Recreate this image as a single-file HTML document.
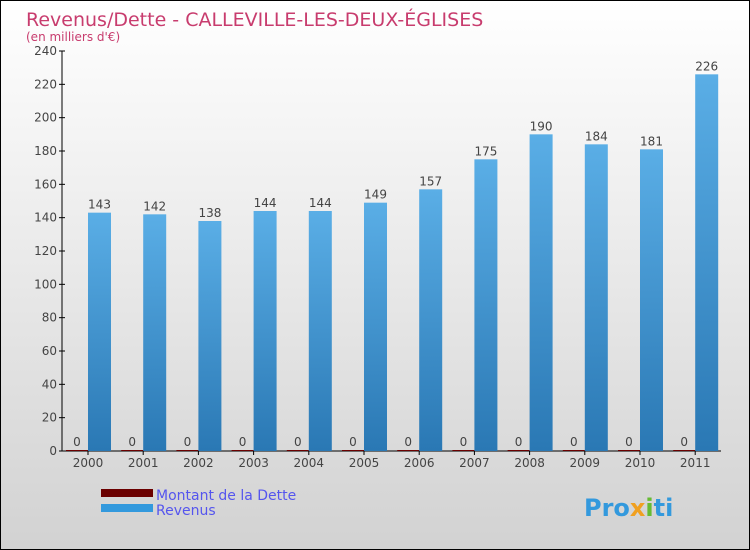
<!DOCTYPE html>
<html><head><meta charset="utf-8"><style>
body{margin:0}
#c{width:748px;height:548px;border:1px solid #000;background:linear-gradient(#fff,#d2d2d2);position:relative;font-family:"DejaVu Sans","Liberation Sans",sans-serif}
</style></head><body>
<div id="c">
<svg id="s" width="748" height="548" style="position:absolute;left:0;top:0">
<defs><linearGradient id="rg" x1="0" y1="0" x2="0" y2="1"><stop offset="0" stop-color="#5aaee6"/><stop offset="1" stop-color="#2a78b4"/></linearGradient></defs>
<text x="25" y="25" font-size="19" fill="#c83c6e">Revenus/Dette - CALLEVILLE-LES-DEUX-ÉGLISES</text>
<text x="25" y="40" font-size="12" fill="#c83c6e">(en milliers d'€)</text>
<g id="plot"></g>
<rect x="100" y="488" width="52" height="8" fill="#6b0000"/>
<rect x="100" y="503" width="52" height="8" fill="#3399dd"/>
<text x="155" y="499" font-size="14" fill="#5555ee">Montant de la Dette</text>
<text x="155" y="514" font-size="14" fill="#5555ee">Revenus</text>
<text x="583" y="515" font-size="24" font-weight="bold" fill="#3399dd">Pro<tspan fill="#f0a020">x</tspan><tspan fill="#66bb33">i</tspan>ti</text>
</svg></div>
<script>
const years=["2000","2001","2002","2003","2004","2005","2006","2007","2008","2009","2010","2011"];
const revenus=[143,142,138,144,144,149,157,175,190,184,181,226];
const dette=[0,0,0,0,0,0,0,0,0,0,0,0];
const yTicks=[0,20,40,60,80,100,120,140,160,180,200,220,240];
const NS="http://www.w3.org/2000/svg",g=document.getElementById('plot');
const y=v=>450-v*400/240, cx=i=>87+i*55.2;
function mk(t,a,txt){const e=document.createElementNS(NS,t);for(const k in a)e.setAttribute(k,a[k]);if(txt!=null)e.textContent=txt;g.appendChild(e);return e;}
let e=mk('line',{x1:61,y1:50,x2:61,y2:450,stroke:'#000'});


e=mk('line',{x1:61,y1:450,x2:720,y2:450,stroke:'#000'});


yTicks.forEach(v=>{
 e=mk('line',{x1:58,y1:y(v),x2:64,y2:y(v),stroke:'#000'});
 
 
 e=mk('text',{x:56,y:y(v)+4,'text-anchor':'end','font-size':12,fill:'#444'},v);
 
 
});
years.forEach((yr,i)=>{
 const c=cx(i);
 e=mk('rect',{x:c-22,y:y(dette[i])-1,width:22,height:Math.max(1,450-y(dette[i])),fill:'#6b0000'});
 
 
 e=mk('text',{x:c-11,y:y(dette[i])-5,'text-anchor':'middle','font-size':12,fill:'#444'},dette[i]);
 
 
 e=mk('rect',{x:c,y:y(revenus[i]),width:23,height:450-y(revenus[i]),fill:'url(#rg)'});
 
 
 e=mk('text',{x:c+11.5,y:y(revenus[i])-4,'text-anchor':'middle','font-size':12,fill:'#444'},revenus[i]);
 
 
 e=mk('line',{x1:c,y1:450,x2:c,y2:454,stroke:'#000'});
 
 
 e=mk('text',{x:c,y:466,'text-anchor':'middle','font-size':12,fill:'#444'},yr);
 
 
});
</script></body></html>
